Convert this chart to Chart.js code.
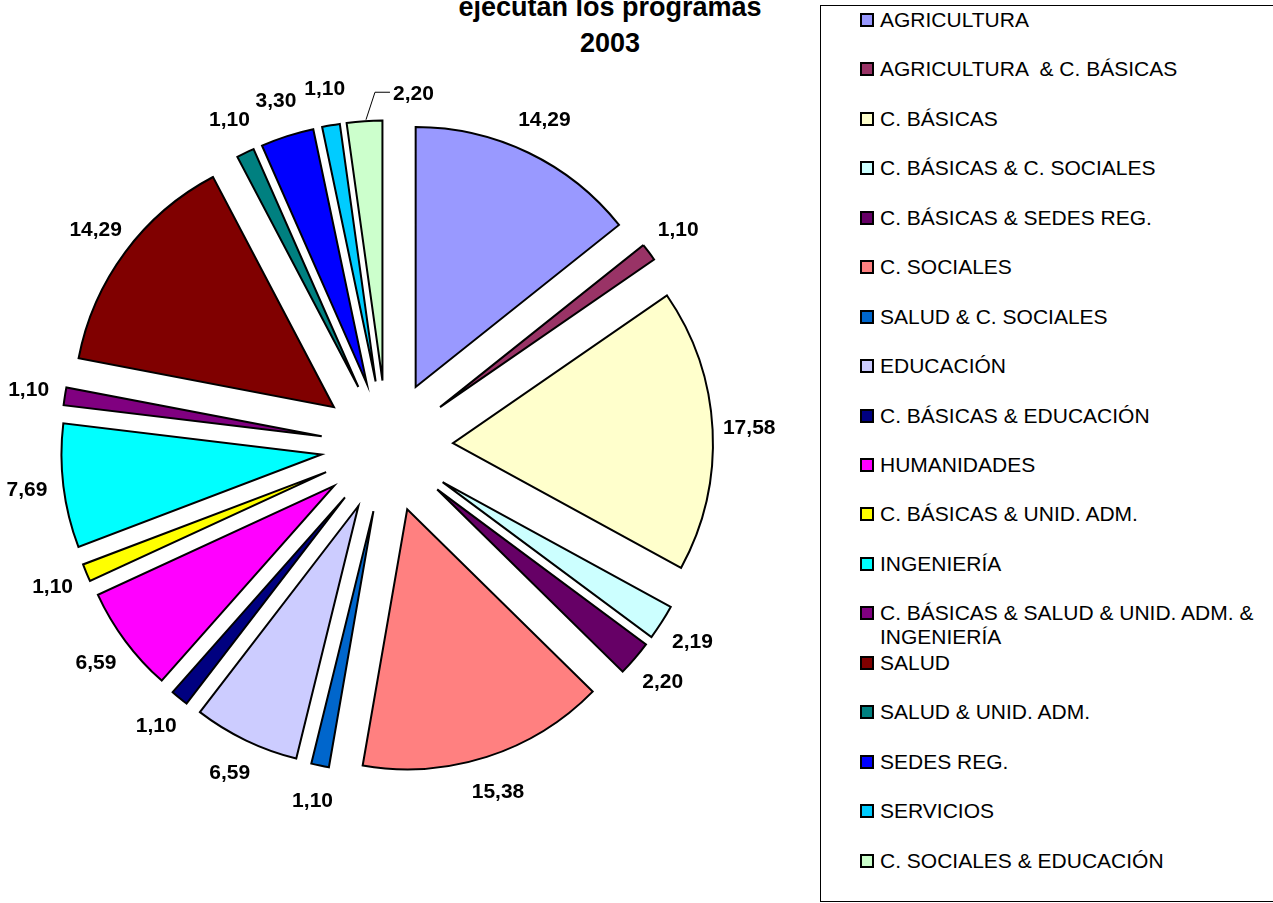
<!DOCTYPE html>
<html>
<head>
<meta charset="utf-8">
<script src="https://cdn.jsdelivr.net/npm/chart.js@4.4.1/dist/chart.umd.min.js"></script>
<style>
    html, body { margin: 0; padding: 0; background: #fff; overflow: hidden; }
    body { width: 1273px; height: 903px; position: relative; font-family: "Liberation Sans", Arial, sans-serif; }
    #chart-wrap { position: absolute; left: 0; top: 0; width: 800px; height: 903px; }
    #title { position: absolute; left: 410px; top: -11px; width: 400px; text-align: center;
             font-weight: bold; font-size: 27px; line-height: 36px; }
    #legend { position: absolute; left: 820px; top: 5px; width: 480px; height: 897px;
              border: 1px solid #000; box-sizing: border-box; }
    .legend-item { position: absolute; left: 39px; font-size: 21px; line-height: 24px; }
    .legend-box { position: absolute; left: 0; top: 5px; width: 10px; height: 10px; border: 2px solid #000; }
    .legend-text { position: absolute; left: 20px; top: 0; width: 390px; white-space: pre-wrap; color: #000; }
</style>
</head>
<body>
<div id="title"></div>
<div id="chart-wrap"><canvas id="pieChart"></canvas></div>
<div id="legend"></div>

<script>
// Data (percentages)
const titleLines = ['ejecutan los programas', '2003'];

const categories = [
    'AGRICULTURA',
    'AGRICULTURA  & C. BÁSICAS',
    'C. BÁSICAS',
    'C. BÁSICAS & C. SOCIALES',
    'C. BÁSICAS & SEDES REG.',
    'C. SOCIALES',
    'SALUD & C. SOCIALES',
    'EDUCACIÓN',
    'C. BÁSICAS & EDUCACIÓN',
    'HUMANIDADES',
    'C. BÁSICAS & UNID. ADM.',
    'INGENIERÍA',
    'C. BÁSICAS & SALUD & UNID. ADM. & INGENIERÍA',
    'SALUD',
    'SALUD & UNID. ADM.',
    'SEDES REG.',
    'SERVICIOS',
    'C. SOCIALES & EDUCACIÓN'
];

const shares = [14.29, 1.10, 17.58, 2.19, 2.20, 15.38, 1.10, 6.59, 1.10, 6.59,
                1.10, 7.69, 1.10, 14.29, 1.10, 3.30, 1.10, 2.20];

const sliceColors = [
    '#9999FF', '#993366', '#FFFFCC', '#CCFFFF', '#660066', '#FF8080',
    '#0066CC', '#CCCCFF', '#000080', '#FF00FF', '#FFFF00', '#00FFFF',
    '#800080', '#800000', '#008080', '#0000FF', '#00CCFF', '#CCFFCC'
];

const EXPLODE = 0.254;     // slice pulled out by this fraction of the radius
const LABEL_DIST = 1.395;  // label centre distance / radius

function fmt(v) {
    return v.toFixed(2).replace('.', ',');
}

function chartCenter(chart) {
    const ca = chart.chartArea;
    return { x: (ca.left + ca.right) / 2, y: (ca.top + ca.bottom) / 2 };
}

// Exploded pie: move every arc out along its own middle angle
const explodePlugin = {
    id: 'explode',
    beforeDatasetsDraw(chart) {
        const c = chartCenter(chart);
        chart.getDatasetMeta(0).data.forEach(arc => {
            const mid = (arc.startAngle + arc.endAngle) / 2;
            const d = arc.outerRadius * EXPLODE;
            arc.x = c.x + Math.cos(mid) * d;
            arc.y = c.y + Math.sin(mid) * d;
        });
    }
};

// Value labels outside each slice
const labelPlugin = {
    id: 'sliceLabels',
    afterDatasetsDraw(chart) {
        const ctx = chart.ctx;
        const c = chartCenter(chart);
        const values = chart.data.datasets[0].data;
        ctx.save();
        ctx.font = 'bold 21px "Liberation Sans", Arial, sans-serif';
        ctx.fillStyle = '#000';
        ctx.strokeStyle = '#000';
        ctx.lineWidth = 1;
        ctx.textAlign = 'center';
        ctx.textBaseline = 'middle';
        let prev = null;
        chart.getDatasetMeta(0).data.forEach((arc, i) => {
            const text = fmt(values[i]);
            const mid = (arc.startAngle + arc.endAngle) / 2;
            const r = arc.outerRadius * LABEL_DIST;
            let x = c.x + Math.cos(mid) * r;
            let y = c.y + Math.sin(mid) * r;
            const w = ctx.measureText(text).width;
            const h = 16;
            if (prev && Math.abs(x - prev.x) < (w + prev.w) / 2 + 2 && Math.abs(y - prev.y) < h) {
                // no room: move label to the side and draw a leader line
                const ox = arc.x + Math.cos(mid) * arc.outerRadius;
                const oy = arc.y + Math.sin(mid) * arc.outerRadius;
                ctx.beginPath();
                ctx.moveTo(ox + 1.5, oy - 1.5);
                ctx.lineTo(ox + 10.5, oy - 29);
                ctx.lineTo(ox + 25.5, oy - 29);
                ctx.stroke();
                x = ox + 28.5 + w / 2;
                y = oy - 27;
            }
            ctx.fillText(text, x, y);
            prev = { x, y, w };
        });
        ctx.restore();
    }
};

function buildLegend(chart) {
    const legend = document.getElementById('legend');
    const ds = chart.data.datasets[0];
    legend.innerHTML = chart.data.labels.map((lab, i) => `
        <div class="legend-item" style="top: ${(1.7 + i * 49.47).toFixed(1)}px">
            <span class="legend-box" style="background: ${ds.backgroundColor[i]}"></span>
            <span class="legend-text">${lab}</span>
        </div>
    `).join('');
}

document.getElementById('title').innerHTML = titleLines.join('<br>');

const ctx = document.getElementById('pieChart').getContext('2d');
const pieChart = new Chart(ctx, {
    type: 'pie',
    data: {
        labels: categories,
        datasets: [{
            data: shares,
            backgroundColor: sliceColors,
            borderColor: '#000',
            borderWidth: 2,
            borderJoinStyle: 'miter',
            radius: 260
        }]
    },
    options: {
        responsive: true,
        maintainAspectRatio: false,
        animation: false,
        events: [],
        layout: { padding: { left: 0, top: 0, right: 26, bottom: 10 } },
        plugins: {
            legend: { display: false },
            title: { display: false },
            tooltip: { enabled: false }
        }
    },
    plugins: [explodePlugin, labelPlugin]
});

buildLegend(pieChart);
</script>
</body>
</html>
